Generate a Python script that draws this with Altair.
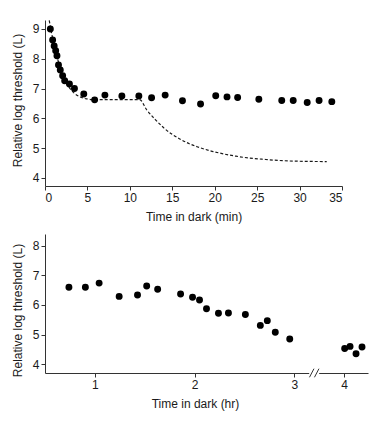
import altair as alt
import pandas as pd

# ---- data ----
# top panel: minutes in dark
min_time = [0.63, 0.9, 1.08, 1.26, 1.41, 1.59, 1.8, 2.08, 2.32, 2.88, 3.47, 4.57, 5.85, 7.06,
            9.06, 11.06, 12.56, 14.16, 16.2, 18.33, 20.12, 21.45, 22.7, 25.2, 27.9, 29.25,
            30.9, 32.3, 33.8]
min_thr = [9.0, 8.63, 8.43, 8.27, 8.1, 7.79, 7.62, 7.43, 7.26, 7.15, 7.0, 6.82, 6.62, 6.78,
           6.75, 6.75, 6.69, 6.78, 6.59, 6.48, 6.76, 6.72, 6.7, 6.64, 6.6, 6.6, 6.53, 6.6, 6.56]

# dashed model curve (top panel)
curve_time = [0.5, 0.75, 1.0, 1.25, 1.5, 1.75, 2.0, 2.5, 3.0, 3.5, 4.0, 4.5, 5.0, 5.5, 6.5,
              8.0, 9.5, 11.15, 12.0, 13.0, 14.0, 15.0, 16.0, 17.0, 18.0, 19.5, 21.0, 22.5,
              24.0, 26.0, 28.0, 30.0, 33.2]
curve_thr = [9.29, 8.9, 8.55, 8.25, 7.98, 7.74, 7.53, 7.2, 6.98, 6.83, 6.74, 6.68, 6.65,
             6.63, 6.63, 6.63, 6.63, 6.63, 6.28, 5.96, 5.68, 5.46, 5.29, 5.15, 5.04, 4.91,
             4.81, 4.73, 4.67, 4.62, 4.58, 4.56, 4.55]

# bottom panel: hours in dark
hr_time = [0.74, 0.905, 1.043, 1.244, 1.428, 1.52, 1.63, 1.86, 1.98, 2.05, 2.12, 2.24,
           2.34, 2.51, 2.66, 2.73, 2.81, 2.955, 4.006, 4.06, 4.12, 4.18]
hr_thr = [6.6, 6.6, 6.74, 6.29, 6.34, 6.64, 6.53, 6.37, 6.26, 6.17, 5.87, 5.72, 5.73, 5.68,
          5.31, 5.47, 5.08, 4.85, 4.53, 4.6, 4.35, 4.58]
hr_ticks = [1, 2, 3, 4]
min_ticks = [0, 5, 10, 15, 20, 25, 30, 35]
thr_ticks = [4, 5, 6, 7, 8, 9]
thr_ticks_b = [4, 5, 6, 7, 8]
BREAK_SHIFT = 0.5          # hours cut out of the axis between 3 and 4
break_gap = [3.15, 3.25]   # cut of the axis line (display units)
slash_lo = [3.153, 3.203]
slash_hi = [3.198, 3.248]

FONT = "Liberation Sans"
INK = "#1a1a1a"


def disp(h):
    return h if h <= 3 else h - BREAK_SHIFT


# ---- top panel ----
top_pts = pd.DataFrame({"t": min_time, "v": min_thr})
curve = pd.DataFrame({"t": curve_time, "v": curve_thr})

xt = alt.X("t:Q", scale=alt.Scale(domain=[0, 35], nice=False, zero=False),
           axis=alt.Axis(values=min_ticks, title="Time in dark (min)"))
yt = alt.Y("v:Q", scale=alt.Scale(domain=[3.73, 9.3], nice=False, zero=False),
           axis=alt.Axis(values=thr_ticks, title="Relative log threshold (L)", titleY=80))

top = alt.layer(
    alt.Chart(curve).mark_line(color=INK, strokeDash=[3, 2], strokeWidth=1.2,
                               interpolate="monotone").encode(x=xt, y=yt),
    alt.Chart(top_pts).mark_circle(size=48, color="#000", opacity=1).encode(x=xt, y=yt),
).properties(width=297, height=166)

# ---- bottom panel ----
bot = pd.DataFrame({"p": [disp(h) for h in hr_time], "v": hr_thr})
tick_pos = [disp(h) for h in hr_ticks]
label_expr = "datum.value > 3.1 ? format(datum.value + %s, 'd') : format(datum.value, 'd')" % BREAK_SHIFT

bscale_x = alt.Scale(domain=[0.5, 3.74], nice=False, zero=False)
bscale_y = alt.Scale(domain=[3.7, 8.4], nice=False, zero=False)
baxis_x = alt.Axis(values=tick_pos, labelExpr=label_expr, title="Time in dark (hr)", titleX=150)
baxis_y = alt.Axis(values=thr_ticks_b, title="Relative log threshold (L)", titleY=76)

gap = pd.DataFrame({"p": [break_gap[0]], "p2": [break_gap[1]], "y": [3.7]})
slashes = pd.DataFrame({"p": slash_lo, "p2": slash_hi, "y": [3.555, 3.555], "y2": [3.845, 3.845]})

bottom = alt.layer(
    alt.Chart(bot).mark_circle(size=48, color="#000", opacity=1).encode(
        x=alt.X("p:Q", scale=bscale_x, axis=baxis_x),
        y=alt.Y("v:Q", scale=bscale_y, axis=baxis_y)),
    alt.Chart(gap).mark_rule(color="white", strokeWidth=3).encode(
        x=alt.X("p:Q", scale=bscale_x, axis=baxis_x), x2="p2:Q",
        y=alt.Y("y:Q", scale=bscale_y, axis=baxis_y)),
    alt.Chart(slashes).mark_rule(color="#333", strokeWidth=1).encode(
        x=alt.X("p:Q", scale=bscale_x, axis=baxis_x), x2="p2:Q",
        y=alt.Y("y:Q", scale=bscale_y, axis=baxis_y), y2="y2:Q"),
).properties(width=323, height=139)

chart = alt.vconcat(top, bottom, spacing=12).properties(
    padding={"left": 3, "top": 9, "right": 5, "bottom": 5}
).configure_view(stroke=None).configure_axis(
    grid=False, labelFont=FONT, titleFont=FONT, labelFontSize=12, titleFontSize=12,
    titleFontWeight="normal", labelColor=INK, titleColor=INK, domainColor="#333",
    tickColor="#333", tickSize=4, labelPadding=2, titlePadding=8
)

chart.save("out.html", embed_options={"renderer": "svg", "actions": False})
